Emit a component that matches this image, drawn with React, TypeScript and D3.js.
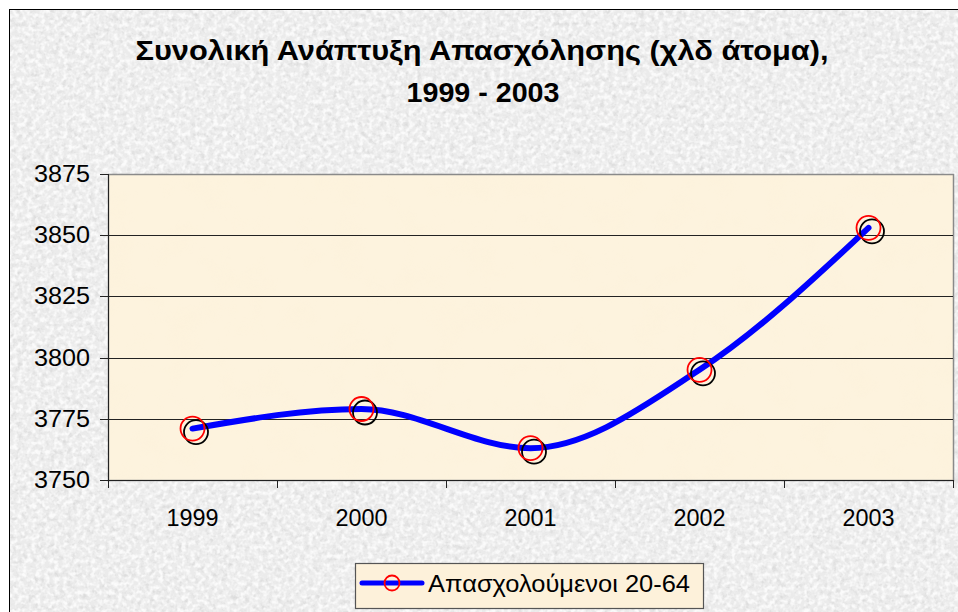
import React from "react";
import * as d3 from "d3";

// data
const years = ["1999", "2000", "2001", "2002", "2003"];
const employed = [3771, 3779, 3763, 3795, 3853];
const yTicks = [3750, 3775, 3800, 3825, 3850, 3875];
const seriesName = "Απασχολούμενοι 20-64";
const titleLines = ["Συνολική Ανάπτυξη Απασχόλησης (χλδ άτομα),", "1999 - 2003"];

const W = 958;
const H = 612;
const plot = { left: 108, right: 953, top: 174, bottom: 480 };
const font = "Arial, 'Liberation Sans', sans-serif";

const App = () => {
  const x = d3
    .scalePoint<string>()
    .domain(years)
    .range([plot.left, plot.right])
    .padding(0.5);
  const y = d3.scaleLinear().domain([3750, 3875]).range([plot.bottom, plot.top]);
  const step = x.step();

  const line = d3
    .line<number>()
    .x((_, i) => x(years[i]) as number)
    .y((d) => y(d))
    .curve(d3.curveMonotoneX);

  // category boundaries for the x ticks
  const bounds = d3.range(years.length + 1).map((i) => plot.left + i * step);

  return (
    <svg
      width={W}
      height={H}
      style={{ position: "absolute", left: 0, top: 0, display: "block" }}
      fontFamily={font}
    >
      <defs>
        <filter id="granite" x="0" y="0" width="100%" height="100%">
          <feTurbulence type="fractalNoise" baseFrequency="0.18" numOctaves="3" seed="7" result="n" />
          <feColorMatrix
            in="n"
            type="matrix"
            values="0 0 0 0 0.6  0 0 0 0 0.6  0 0 0 0 0.6  -2.4 0 0 0 1.25"
          />
        </filter>
        <filter id="granite2" x="0" y="0" width="100%" height="100%">
          <feTurbulence type="fractalNoise" baseFrequency="0.22" numOctaves="2" seed="2" result="n" />
          <feColorMatrix
            in="n"
            type="matrix"
            values="0 0 0 0 1  0 0 0 0 1  0 0 0 0 1  3.0 0 0 0 -1.2"
          />
        </filter>
        <filter id="parch" x="0" y="0" width="100%" height="100%">
          <feTurbulence type="fractalNoise" baseFrequency="0.03" numOctaves="3" seed="4" result="n" />
          <feColorMatrix
            in="n"
            type="matrix"
            values="0 0 0 0 0.96  0 0 0 0 0.86  0 0 0 0 0.66  -1.6 0 0 0 0.85"
          />
        </filter>
      </defs>

      {/* page background */}
      <rect x={0} y={0} width={W} height={H} fill="#ffffff" />
      <rect x={9} y={9} width={W} height={H} fill="#ebebeb" />
      <rect x={9} y={9} width={W} height={H} filter="url(#granite)" opacity={0.55} />
      <rect x={9} y={9} width={W} height={H} filter="url(#granite2)" opacity={0.8} />
      <rect x={9.5} y={9.5} width={W + 10} height={H + 10} fill="none" stroke="#000" strokeWidth={1} />

      {/* title */}
      <text x={482} y={60} textAnchor="middle" fontSize={27} fontWeight="bold" fill="#000"
        textLength={693} lengthAdjust="spacingAndGlyphs">
        {titleLines[0]}
      </text>
      <text x={483} y={102} textAnchor="middle" fontSize={27} fontWeight="bold" fill="#000"
        textLength={153} lengthAdjust="spacingAndGlyphs">
        {titleLines[1]}
      </text>

      {/* plot area */}
      <rect
        x={plot.left}
        y={plot.top}
        width={plot.right - plot.left}
        height={plot.bottom - plot.top}
        fill="#fdf3de"
      />
      <rect
        x={plot.left}
        y={plot.top}
        width={plot.right - plot.left}
        height={plot.bottom - plot.top}
        filter="url(#parch)"
        opacity={0.25}
      />
      <rect
        x={plot.left + 0.5}
        y={plot.top + 0.5}
        width={plot.right - plot.left}
        height={plot.bottom - plot.top}
        fill="none"
        stroke="#8a8a8a"
        strokeWidth={1.5}
      />

      {/* gridlines */}
      {yTicks.slice(1, -1).map((t) => (
        <line
          key={t}
          x1={plot.left}
          x2={plot.right}
          y1={Math.round(y(t)) + 0.5}
          y2={Math.round(y(t)) + 0.5}
          stroke="#222"
          strokeWidth={1}
        />
      ))}

      {/* y axis */}
      <line x1={plot.left + 0.5} x2={plot.left + 0.5} y1={plot.top} y2={plot.bottom} stroke="#222" />
      {yTicks.map((t) => (
        <g key={t}>
          <line
            x1={plot.left - 8}
            x2={plot.left}
            y1={Math.round(y(t)) + 0.5}
            y2={Math.round(y(t)) + 0.5}
            stroke="#222"
          />
          <text x={90} y={y(t) + 8} textAnchor="end" fontSize={23} fill="#000"
            textLength={56} lengthAdjust="spacingAndGlyphs">
            {t}
          </text>
        </g>
      ))}

      {/* x axis */}
      <line x1={plot.left} x2={plot.right} y1={plot.bottom + 0.5} y2={plot.bottom + 0.5} stroke="#222" />
      {bounds.map((b, i) => (
        <line
          key={i}
          x1={Math.round(b) + 0.5}
          x2={Math.round(b) + 0.5}
          y1={plot.bottom}
          y2={plot.bottom + 8}
          stroke="#222"
        />
      ))}
      {years.map((yr) => (
        <text key={yr} x={x(yr)} y={526} textAnchor="middle" fontSize={23} fill="#000"
          textLength={52} lengthAdjust="spacingAndGlyphs">
          {yr}
        </text>
      ))}

      {/* series */}
      <path
        d={line(employed) ?? ""}
        fill="none"
        stroke="#0000ff"
        strokeWidth={6}
        strokeLinecap="round"
        strokeLinejoin="round"
      />
      {employed.map((v, i) => (
        <g key={i}>
          <circle cx={(x(years[i]) as number) + 3.5} cy={y(v) + 3.5} r={12} fill="none" stroke="#000" strokeWidth={1.8} />
          <circle cx={x(years[i])} cy={y(v)} r={12} fill="none" stroke="#ff0000" strokeWidth={1.8} />
        </g>
      ))}

      {/* legend */}
      <rect x={355.5} y={563.5} width={348} height={45} fill="#fdf1da" stroke="#555" strokeWidth={1.2} />
      <line x1={362} x2={422} y1={583} y2={583} stroke="#0000ff" strokeWidth={5} strokeLinecap="round" />
      <circle cx={392} cy={583} r={7.5} fill="none" stroke="#ff0000" strokeWidth={1.8} />
      <text x={428} y={592} fontSize={23} fill="#000" textLength={262} lengthAdjust="spacingAndGlyphs">
        {seriesName}
      </text>
    </svg>
  );
};

export default App;
